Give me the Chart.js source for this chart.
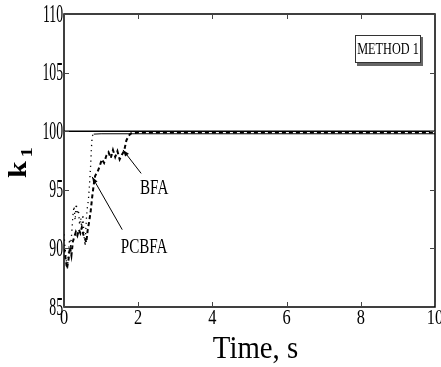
<!DOCTYPE html>
<html>
<head>
<meta charset="utf-8">
<script src="https://cdn.jsdelivr.net/npm/chart.js@4/dist/chart.umd.min.js"></script>
<style>
  body { margin: 0; background: #fff; }
  canvas { display: block; }
</style>
</head>
<body>
<canvas id="k1chart" width="441" height="367"></canvas>
<script>
// reference gain
const timeRef = [0, 10];
const k1Ref = [100, 100];

// BFA run (dashed)
const timeBFA = [0, 0.04, 0.08, 0.12, 0.16, 0.2, 0.24, 0.28, 0.32, 0.36, 0.4, 0.44, 0.48, 0.52, 0.56, 0.6, 0.64, 0.68, 0.72, 0.76, 0.8, 0.84, 0.9, 0.96, 1.02, 1.08, 1.14, 1.2, 1.26, 1.32, 1.38, 1.44, 1.5, 1.56, 1.62, 1.68, 1.74, 1.8, 1.9, 2.0, 2.2, 10];
const k1BFA = [90.0, 89.2, 88.3, 89.0, 90.1, 89.4, 90.6, 91.0, 91.4, 91.1, 91.6, 91.3, 91.8, 91.2, 90.9, 90.5, 91.6, 92.3, 93.2, 94.4, 95.4, 96.2, 96.5, 97.0, 97.6, 97.3, 97.9, 98.2, 97.7, 98.4, 97.8, 98.3, 97.6, 98.0, 98.3, 99.2, 99.6, 99.8, 99.85, 99.88, 99.88, 99.88];

// PCBFA run (dotted)
const timePCBFA = [0, 0.03, 0.06, 0.09, 0.12, 0.15, 0.18, 0.21, 0.24, 0.27, 0.3, 0.33, 0.36, 0.39, 0.42, 0.45, 0.48, 0.51, 0.54, 0.57, 0.6, 0.63, 0.66, 0.69, 0.72, 0.74, 0.76, 0.8, 1.0, 10];
const k1PCBFA = [91.2, 90.0, 89.0, 88.2, 89.6, 90.8, 90.2, 91.4, 92.8, 93.6, 92.4, 93.8, 92.9, 93.3, 92.0, 92.6, 91.7, 92.9, 91.0, 90.2, 92.4, 93.5, 94.2, 95.6, 97.2, 98.6, 99.6, 99.75, 99.78, 99.78];

const xTicks = [0, 2, 4, 6, 8, 10];
const yTicks = [85, 90, 95, 100, 105, 110];

// arrow labels: [text, textX, textY, tailX, tailY, headX, headY]
const notes = [
  ['BFA', 2.43, 95.1, 2.08, 96.4, 1.59, 98.4],
  ['PCBFA', 2.16, 90.1, 1.57, 91.6, 0.76, 96.1]
];

const toXY = (xs, ys) => xs.map((x, i) => ({ x: x, y: ys[i] }));
const SERIF = '"Liberation Serif", "Times New Roman", serif';

function squeezedText(ctx, text, x, y, size, sx, align, baseline, bold, rot) {
  ctx.save();
  ctx.translate(x, y);
  if (rot) ctx.rotate(rot);
  ctx.scale(sx, 1);
  ctx.font = (bold ? 'bold ' : '') + size + 'px ' + SERIF;
  ctx.textAlign = align;
  ctx.textBaseline = baseline;
  ctx.fillStyle = '#000';
  ctx.fillText(text, 0, 0);
  ctx.restore();
}

const frame = {
  id: 'frame',
  afterDraw(chart) {
    const ctx = chart.ctx;
    const a = chart.chartArea;
    const xs = chart.scales.x, ys = chart.scales.y;
    ctx.save();
    ctx.strokeStyle = '#000';
    ctx.lineWidth = 1.5;
    ctx.strokeRect(a.left, a.top, a.right - a.left, a.bottom - a.top);

    // inward ticks on all four sides
    ctx.lineWidth = 1;
    ctx.strokeStyle = '#444';
    ctx.beginPath();
    xs.ticks.forEach(t => {
      const px = Math.round(xs.getPixelForValue(t.value)) + 0.5;
      ctx.moveTo(px, a.bottom); ctx.lineTo(px, a.bottom - 5);
      ctx.moveTo(px, a.top); ctx.lineTo(px, a.top + 5);
    });
    ys.ticks.forEach(t => {
      const py = Math.round(ys.getPixelForValue(t.value)) + 0.5;
      ctx.moveTo(a.left, py); ctx.lineTo(a.left + 5, py);
      ctx.moveTo(a.right, py); ctx.lineTo(a.right - 5, py);
    });
    ctx.stroke();

    // tick labels, narrow serif
    ys.ticks.forEach(t => {
      squeezedText(ctx, String(t.value), a.left - 1, ys.getPixelForValue(t.value) + 1, 25, 0.55, 'right', 'middle');
    });
    xs.ticks.forEach(t => {
      squeezedText(ctx, String(t.value), xs.getPixelForValue(t.value), a.bottom + 1, 21, 0.78, 'center', 'top');
    });

    // axis titles
    squeezedText(ctx, 'Time, s', (a.left + a.right) / 2 + 6, 358, 32, 0.9, 'center', 'alphabetic');
    ctx.save();
    ctx.translate(26, 178);
    ctx.rotate(-Math.PI / 2);
    ctx.scale(1.2, 1);
    ctx.fillStyle = '#000';
    ctx.textBaseline = 'alphabetic';
    ctx.textAlign = 'left';
    ctx.font = 'bold 25px ' + SERIF;
    ctx.fillText('k', 0, 0);
    ctx.font = 'bold 17px ' + SERIF;
    ctx.fillText('1', 17, 6);
    ctx.restore();

    // arrow annotations
    notes.forEach(n => {
      const tx = xs.getPixelForValue(n[3]), ty = ys.getPixelForValue(n[4]);
      const hx = xs.getPixelForValue(n[5]), hy = ys.getPixelForValue(n[6]);
      ctx.strokeStyle = '#000';
      ctx.lineWidth = 1;
      ctx.beginPath();
      ctx.moveTo(tx, ty); ctx.lineTo(hx, hy);
      ctx.stroke();
      const ang = Math.atan2(hy - ty, hx - tx);
      ctx.beginPath();
      ctx.moveTo(hx, hy);
      ctx.lineTo(hx - 7 * Math.cos(ang - 0.35), hy - 7 * Math.sin(ang - 0.35));
      ctx.lineTo(hx - 7 * Math.cos(ang + 0.35), hy - 7 * Math.sin(ang + 0.35));
      ctx.closePath();
      ctx.fillStyle = '#000';
      ctx.fill();
      squeezedText(ctx, n[0], xs.getPixelForValue(n[1]), ys.getPixelForValue(n[2]), 21, 0.72, 'center', 'middle');
    });

    // method box
    ctx.fillStyle = '#666';
    ctx.fillRect(357, 63, 66, 3);
    ctx.fillRect(421, 37, 2, 29);
    ctx.fillStyle = '#fff';
    ctx.fillRect(355, 35, 66, 28);
    ctx.strokeStyle = '#333';
    ctx.lineWidth = 1;
    ctx.strokeRect(355.5, 35.5, 65, 27);
    squeezedText(ctx, 'METHOD 1', 388, 50, 17, 0.72, 'center', 'middle');
    ctx.restore();
  }
};

new Chart(document.getElementById('k1chart'), {
  type: 'line',
  data: {
    datasets: [
      {
        label: 'Reference',
        data: toXY(timeRef, k1Ref),
        borderColor: '#000',
        borderWidth: 1.5,
        pointRadius: 0
      },
      {
        label: 'BFA',
        data: toXY(timeBFA, k1BFA),
        borderColor: '#000',
        borderWidth: 2,
        borderDash: [4, 3],
        pointRadius: 0
      },
      {
        label: 'PCBFA',
        data: toXY(timePCBFA, k1PCBFA),
        borderColor: '#000',
        borderWidth: 1.3,
        borderDash: [1.2, 4],
        pointRadius: 0,
        segment: {
          borderDash: c => c.p0.parsed.x >= 0.8 ? [] : [1.2, 4],
          borderWidth: c => c.p0.parsed.x >= 0.8 ? 1 : 1.3
        }
      }
    ]
  },
  options: {
    responsive: false,
    animation: false,
    layout: { padding: { top: 14, right: 6, left: 0, bottom: 0 } },
    plugins: { legend: { display: false }, tooltip: { enabled: false } },
    scales: {
      x: {
        type: 'linear',
        min: 0,
        max: 10,
        afterBuildTicks: s => { s.ticks = xTicks.map(v => ({ value: v })); },
        grid: { display: false, drawTicks: false },
        border: { display: false },
        ticks: { display: false },
        afterFit: s => { s.height = 60; s.paddingLeft = 0; s.paddingRight = 0; }
      },
      y: {
        min: 85,
        max: 110,
        afterBuildTicks: s => { s.ticks = yTicks.map(v => ({ value: v })); },
        grid: { display: false, drawTicks: false },
        border: { display: false },
        ticks: { display: false },
        afterFit: s => { s.width = 64; s.paddingTop = 0; s.paddingBottom = 0; }
      }
    }
  },
  plugins: [frame]
});
</script>
</body>
</html>
